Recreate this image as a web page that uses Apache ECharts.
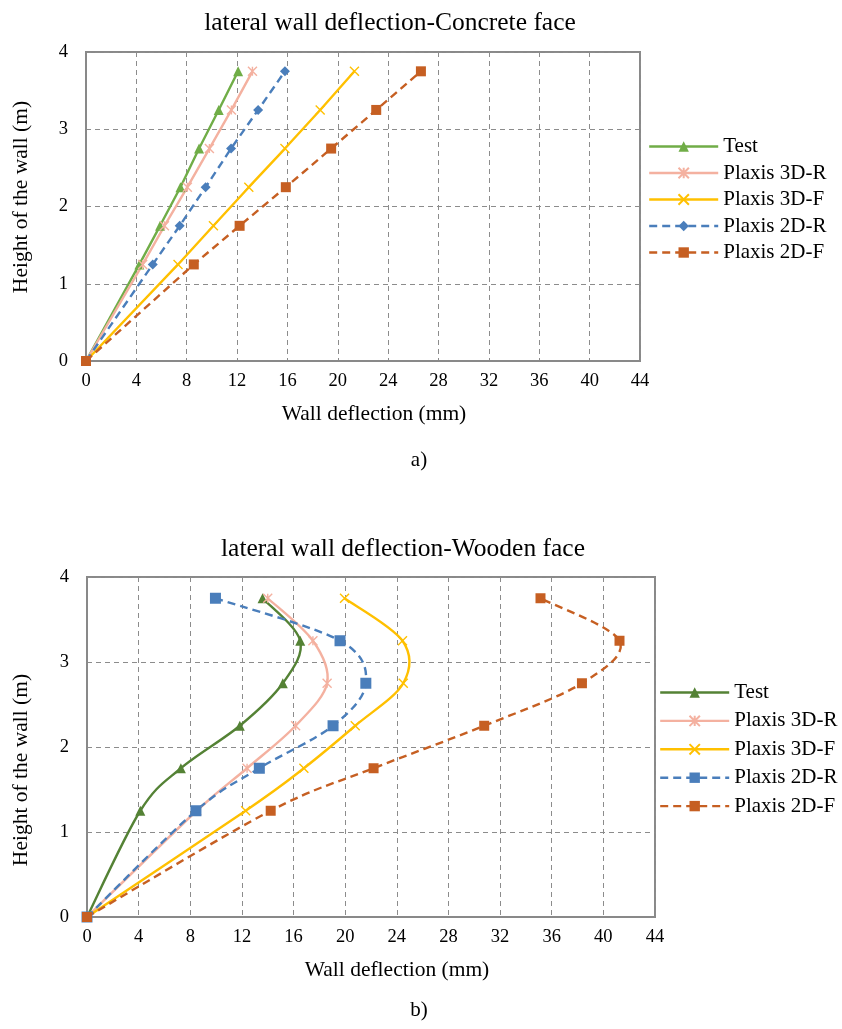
<!DOCTYPE html>
<html>
<head>
<meta charset="utf-8">
<script src="https://cdn.jsdelivr.net/npm/echarts@6/dist/echarts.min.js"></script>
<style>
  html, body { margin: 0; padding: 0; background: #fff; }
  #chartA { width: 842px; height: 520px; }
  #chartB { width: 842px; height: 509px; }
</style>
</head>
<body>
<div id="chartA"></div>
<div id="chartB"></div>
<script>
// heights where the deflection was measured (m)
var heights = [0, 1.25, 1.75, 2.25, 2.75, 3.25, 3.75];
var seriesNames = ['Test', 'Plaxis 3D-R', 'Plaxis 3D-F', 'Plaxis 2D-R', 'Plaxis 2D-F'];

// a) concrete face, wall deflection (mm)
var concreteTest = [0, 4.24, 5.88, 7.5, 8.98, 10.54, 12.08];
var concrete3DR = [0, 4.5, 6.23, 8.05, 9.8, 11.55, 13.22];
var concrete3DF = [0, 7.31, 10.12, 12.93, 15.8, 18.6, 21.32];
var concrete2DR = [0, 5.3, 7.44, 9.5, 11.52, 13.67, 15.8];
var concrete2DF = [0, 8.56, 12.2, 15.87, 19.47, 23.05, 26.6];

// b) wooden face, wall deflection (mm)
var woodenTest = [0, 4.13, 7.27, 11.84, 15.17, 16.52, 13.6];
var wooden3DR = [0, 8.5, 12.4, 16.16, 18.6, 17.5, 14.0];
var wooden3DF = [0, 12.29, 16.8, 20.78, 24.5, 24.44, 19.95];
var wooden2DR = [0, 8.44, 13.35, 19.06, 21.6, 19.6, 9.95];
var wooden2DF = [0, 14.23, 22.2, 30.77, 38.34, 41.25, 35.13];

var FONT = 'Liberation Serif';
var starSym = 'path://M0,0L10,10M10,0L0,10M5,0L5,10';
var crossSym = 'path://M0,0L10,10M10,0L0,10';
var DASH = [8, 5];
var LW = 2.4;

function pairs(xs) {
  return xs.map(function (x, i) { return [x, heights[i]]; });
}

// markers (and straight line when showLine) through the cartesian scales
function makeSeries(name, xs, color, symbol, size, dashed, showLine) {
  var stroked = symbol.indexOf('path://') === 0;
  return {
    name: name,
    type: 'line',
    data: pairs(xs),
    z: 3,
    symbol: symbol,
    symbolSize: size,
    showAllSymbol: true,
    lineStyle: { color: color, width: LW, type: dashed ? DASH : 'solid', opacity: showLine ? 1 : 0 },
    itemStyle: stroked
      ? { color: color, borderColor: color, borderWidth: 1.4 }
      : { color: color, borderWidth: 0 },
    emphasis: { disabled: true },
    animation: false
  };
}

// excel-like smoothed curve: cubic bezier with catmull-rom control points
function curvePath(pts) {
  var d = 'M' + pts[0][0] + ' ' + pts[0][1];
  for (var i = 0; i < pts.length - 1; i++) {
    var p0 = pts[i - 1] || pts[i], p1 = pts[i], p2 = pts[i + 1], p3 = pts[i + 2] || pts[i + 1];
    var c1x = p1[0] + (p2[0] - p0[0]) / 6, c1y = p1[1] + (p2[1] - p0[1]) / 6;
    var c2x = p2[0] - (p3[0] - p1[0]) / 6, c2y = p2[1] - (p3[1] - p1[1]) / 6;
    d += ' C' + c1x + ' ' + c1y + ' ' + c2x + ' ' + c2y + ' ' + p2[0] + ' ' + p2[1];
  }
  return d;
}

function makeCurve(name, xs, color, dashed) {
  return {
    name: name,
    type: 'custom',
    coordinateSystem: 'cartesian2d',
    data: [[xs[0], heights[0]]],
    z: 2,
    silent: true,
    animation: false,
    renderItem: function (params, api) {
      var pts = xs.map(function (x, i) { return api.coord([x, heights[i]]); });
      return {
        type: 'path',
        shape: { pathData: curvePath(pts) },
        style: { fill: 'none', stroke: color, lineWidth: LW, lineDash: dashed ? DASH : null }
      };
    }
  };
}

function xAxis() {
  return {
    type: 'value', min: 0, max: 44, interval: 4,
    axisLine: { show: true, lineStyle: { color: '#898989', width: 2 } },
    axisTick: { show: false },
    axisLabel: { fontFamily: FONT, fontSize: 18.5, color: '#000', margin: 11 },
    splitLine: { show: true, lineStyle: { color: '#8c8c8c', width: 1, type: [5, 4] } }
  };
}

function yAxis() {
  return {
    type: 'value', min: 0, max: 4, interval: 1,
    axisLine: { show: true, lineStyle: { color: '#898989', width: 2 } },
    axisTick: { show: false },
    axisLabel: { fontFamily: FONT, fontSize: 18.5, color: '#000', margin: 18 },
    splitLine: { show: true, lineStyle: { color: '#8c8c8c', width: 1, type: [5, 4] } }
  };
}

function label(text, x, y, size, rot) {
  return {
    type: 'text', x: x, y: y, rotation: rot || 0,
    style: { text: text, font: size + 'px "' + FONT + '"', fill: '#000', textAlign: 'center', textVerticalAlign: 'middle' }
  };
}

function legend(top, left, gap) {
  return {
    data: seriesNames, left: left, top: top, orient: 'vertical', padding: 0,
    itemWidth: 69, itemHeight: 13, itemGap: gap,
    lineStyle: { opacity: 1, width: LW },
    textStyle: { fontFamily: FONT, fontSize: 21, color: '#000', lineHeight: 21 },
    selectedMode: false
  };
}

var chartA = echarts.init(document.getElementById('chartA'));
chartA.setOption({
  backgroundColor: '#fff',
  animation: false,
  grid: { left: 86, top: 52, width: 554, height: 309, show: true, borderColor: '#898989', borderWidth: 2 },
  xAxis: xAxis(),
  yAxis: yAxis(),
  legend: legend(136, 648, 5.5),
  graphic: [
    label('lateral wall deflection-Concrete face', 390, 23, 25.5),
    label('Wall deflection (mm)', 374, 414, 21.5),
    label('Height of the wall (m)', 21, 197, 21.5, Math.PI / 2),
    label('a)', 419, 460, 21)
  ],
  series: [
    makeSeries('Test', concreteTest, '#70AD47', 'triangle', 10, false, true),
    makeSeries('Plaxis 3D-R', concrete3DR, '#F4B1A0', starSym, 9, false, true),
    makeSeries('Plaxis 3D-F', concrete3DF, '#FFC000', crossSym, 9, false, true),
    makeSeries('Plaxis 2D-R', concrete2DR, '#4A7EBB', 'diamond', 10, true, true),
    makeSeries('Plaxis 2D-F', concrete2DF, '#C65F22', 'rect', 10, true, true)
  ]
});

var chartB = echarts.init(document.getElementById('chartB'));
chartB.setOption({
  backgroundColor: '#fff',
  animation: false,
  grid: { left: 87, top: 57, width: 568, height: 340, show: true, borderColor: '#898989', borderWidth: 2 },
  xAxis: xAxis(),
  yAxis: yAxis(),
  legend: legend(162, 659, 7.4),
  graphic: [
    label('lateral wall deflection-Wooden face', 403, 29, 25.5),
    label('Wall deflection (mm)', 397, 450, 21.5),
    label('Height of the wall (m)', 21, 250, 21.5, Math.PI / 2),
    label('b)', 419, 490, 21)
  ],
  series: [
    makeSeries('Test', woodenTest, '#548235', 'triangle', 10, false, false),
    makeSeries('Plaxis 3D-R', wooden3DR, '#F4B1A0', starSym, 9, false, false),
    makeSeries('Plaxis 3D-F', wooden3DF, '#FFC000', crossSym, 9, false, false),
    makeSeries('Plaxis 2D-R', wooden2DR, '#4A7EBB', 'rect', 11, true, false),
    makeSeries('Plaxis 2D-F', wooden2DF, '#C65F22', 'rect', 10, true, false),
    makeCurve('Test', woodenTest, '#548235', false),
    makeCurve('Plaxis 3D-R', wooden3DR, '#F4B1A0', false),
    makeCurve('Plaxis 3D-F', wooden3DF, '#FFC000', false),
    makeCurve('Plaxis 2D-R', wooden2DR, '#4A7EBB', true),
    makeCurve('Plaxis 2D-F', wooden2DF, '#C65F22', true)
  ]
});
</script>
</body>
</html>
